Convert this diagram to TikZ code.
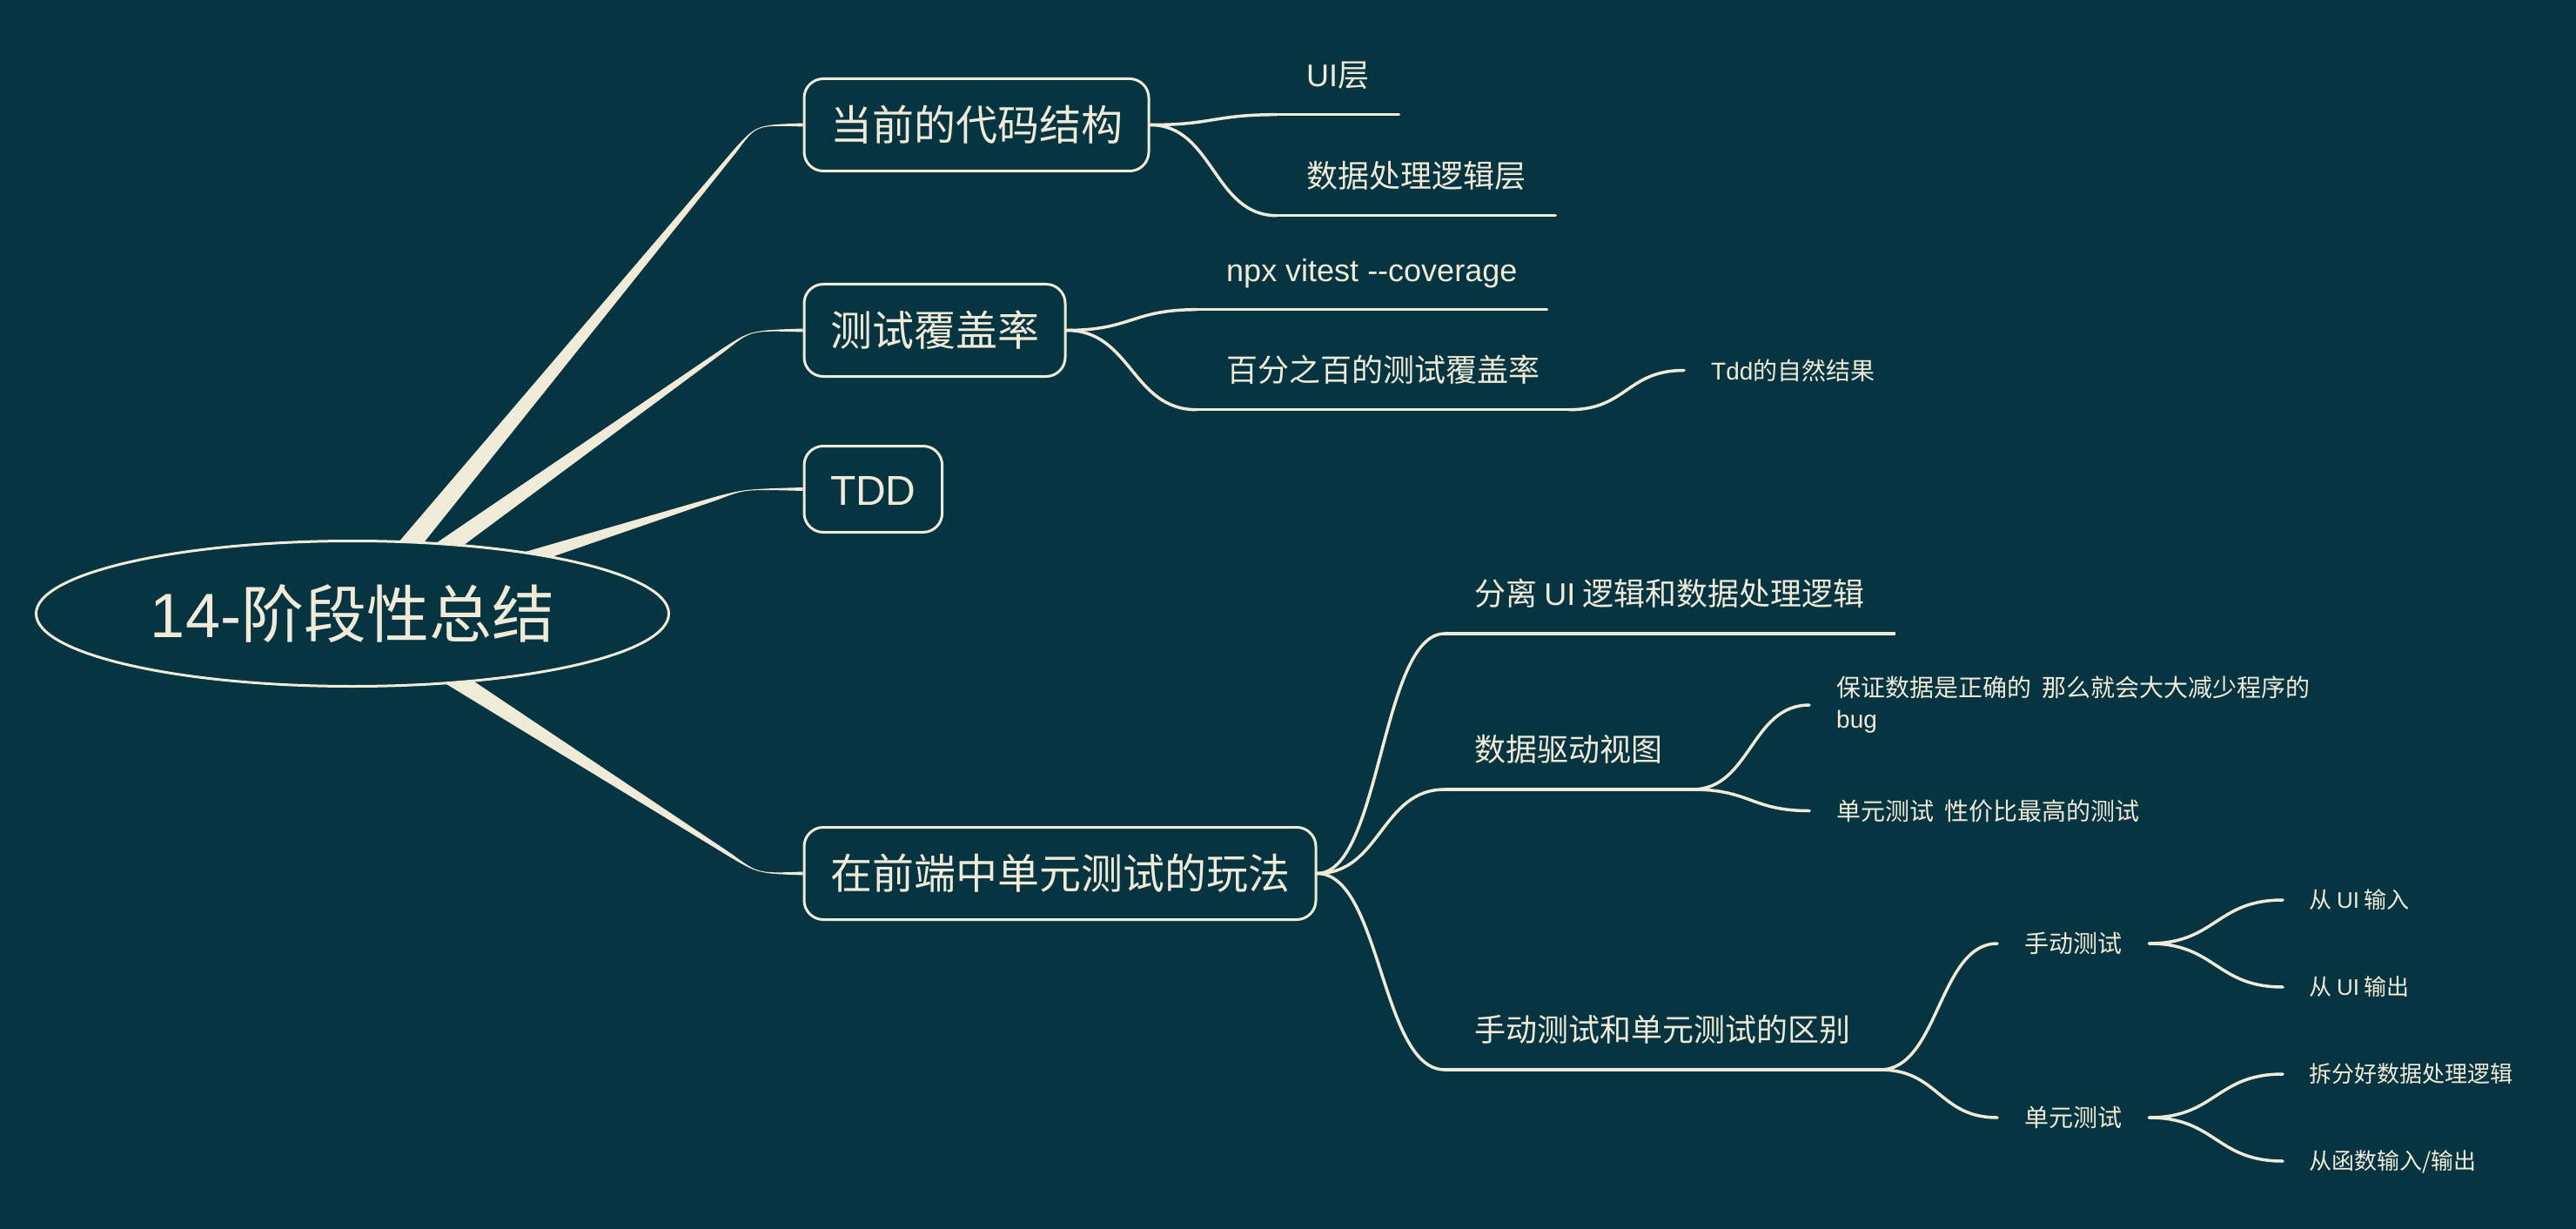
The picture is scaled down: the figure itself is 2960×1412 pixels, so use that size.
\documentclass[tikz,border=0pt]{standalone}
\usepackage{fontspec}
\setmainfont{Noto Sans CJK SC}
\newfontfamily\en{Liberation Sans}
\usetikzlibrary{shapes.geometric,calc}
\definecolor{deepsea}{HTML}{073441}
\definecolor{cream}{HTML}{F0EAD8}
% tapered main branch: bend point, control point, target node
\newcommand{\trunk}[3]{%
  \fill[trunkfill] ($(rootc)!13pt!90:(#1)$) -- ($(#1)!2pt!-90:(rootc)$)
    .. controls (#2) .. ([yshift=2pt]#3.west) -- ([yshift=-2pt]#3.west)
    .. controls (#2) .. ($(#1)!2pt!90:(rootc)$) -- ($(rootc)!13pt!-90:(#1)$) -- cycle;}
\begin{document}
\begin{tikzpicture}[x=1pt,y=-1pt]
                \tikzstyle{rootnode}=[ellipse, draw=cream, line width=3pt, fill=deepsea, text=cream, minimum width=727pt, minimum height=167pt, inner sep=0pt, font=\fontsize{72}{86}\selectfont, text height=63.4pt, text depth=8.6pt]
                \tikzstyle{topic}=[draw=cream, line width=3pt, rounded corners=22pt, text=cream, anchor=west, inner xsep=30pt, inner ysep=29pt, font=\fontsize{48}{58}\selectfont, text height=42.2pt, text depth=5.8pt]
                \tikzstyle{subtopic}=[anchor=south west, text=cream, inner xsep=34pt, inner ysep=28pt, font=\fontsize{36}{43}\selectfont, text height=31.7pt, text depth=4.3pt]
                \tikzstyle{note}=[anchor=west, text=cream, inner xsep=31pt, inner ysep=6pt, font=\fontsize{28}{36}\selectfont]
                \tikzstyle{leaf}=[note, text height=24.6pt, text depth=3.4pt]
                \tikzstyle{tip}=[note, inner xsep=30pt, font=\fontsize{26}{33}\selectfont, text height=22.9pt, text depth=3.1pt]
                \tikzstyle{trunkfill}=[fill=cream]
                \tikzstyle{stem}=[draw=cream, line width=3.5pt, line cap=round]
                \tikzstyle{twig}=[stem, to path={let \p1=(\tikztostart), \p2=(\tikztotarget), \n1={0.5*(\x2-\x1)} in .. controls +(\n1,0) and +(-\n1,0) .. (\tikztotarget)}]
                \useasboundingbox (0,0) rectangle (2960,1412);
                \fill[deepsea] (0,0) rectangle (2960,1412);
                \coordinate (rootc) at (405,705);
                % first level
                \node[topic] (code) at (922.5,143.5) {当前的代码结构};
                \node[topic] (cover) at (922.5,379.5) {测试覆盖率};
                \node[topic, inner ysep=25.5pt] (tdd) at (922.5,562) {{\en TDD}};
                \node[topic] (play) at (922.5,1003.5) {在前端中单元测试的玩法};
                \coordinate (bend1) at (845,173);
                \coordinate (ctl1) at (869,143.5);
                \coordinate (bend2) at (833,401);
                \coordinate (ctl2) at (863,379.5);
                \coordinate (bend3) at (825,572);
                \coordinate (ctl3) at (856,562);
                \coordinate (bend4) at (840,983);
                \coordinate (ctl4) at (871,1003.5);
                \trunk{bend1}{ctl1}{code}
                \trunk{bend2}{ctl2}{cover}
                \trunk{bend3}{ctl3}{tdd}
                \trunk{bend4}{ctl4}{play}
                \node[rootnode] (root) at (rootc) {{\en 14-}阶段性总结};
                % second level
                \node[subtopic] (uilayer) at (1467,131.7) {{\en UI}层};
                \node[subtopic] (datalayer) at (1467,247.7) {数据处理逻辑层};
                \node[subtopic] (npx) at (1375,355.7) {{\en npx vitest -{}-coverage}};
                \node[subtopic] (full) at (1375,470.7) {百分之百的测试覆盖率};
                \node[subtopic] (split) at (1660,728) {分离 {\en UI} 逻辑和数据处理逻辑};
                \node[subtopic] (drive) at (1660,907) {数据驱动视图};
                \node[subtopic] (diff) at (1660,1229) {手动测试和单元测试的区别};
                % third level
                \node[leaf] (natural) at (1935,425.5) {{\en Tdd}的自然结果};
                \node[note, align=left] (guard) at (2079,810) {保证数据是正确的\ \ 那么就会大大减少程序的\\{\en bug}};
                \node[leaf] (costeff) at (2079,931.5) {单元测试\ \ 性价比最高的测试};
                \node[leaf] (manual) at (2295,1084) {手动测试};
                \node[leaf] (unit) at (2295,1284) {单元测试};
                \node[tip] (uiin) at (2623,1034) {从 {\en UI} 输入};
                \node[tip] (uiout) at (2623,1134) {从 {\en UI} 输出};
                \node[tip] (splitgood) at (2623,1234) {拆分好数据处理逻辑};
                \node[tip] (fnio) at (2623,1334) {从函数输入/输出};
                % underlines
                \draw[stem] (uilayer.south west) -- (uilayer.south east);
                \draw[stem] (datalayer.south west) -- (datalayer.south east);
                \draw[stem] (npx.south west) -- (npx.south east);
                \draw[stem] (full.south west) -- (full.south east);
                \draw[stem] (split.south west) -- (split.south east);
                \draw[stem] (drive.south west) -- (drive.south east);
                \draw[stem] (diff.south west) -- (diff.south east);
                % connectors
                \draw[twig] (code.east) to (uilayer.south west);
                \draw[twig] (code.east) to (datalayer.south west);
                \draw[twig] (cover.east) to (npx.south west);
                \draw[twig] (cover.east) to (full.south west);
                \draw[twig] (full.south east) to (natural.west);
                \draw[twig] (play.east) to (split.south west);
                \draw[twig] (play.east) to (drive.south west);
                \draw[twig] (play.east) to (diff.south west);
                \draw[twig] (drive.south east) to (guard.west);
                \draw[twig] (drive.south east) to (costeff.west);
                \draw[twig] (diff.south east) to (manual.west);
                \draw[twig] (diff.south east) to (unit.west);
                \draw[twig] (manual.east) to (uiin.west);
                \draw[twig] (manual.east) to (uiout.west);
                \draw[twig] (unit.east) to (splitgood.west);
                \draw[twig] (unit.east) to (fnio.west);
\end{tikzpicture}
\end{document}
